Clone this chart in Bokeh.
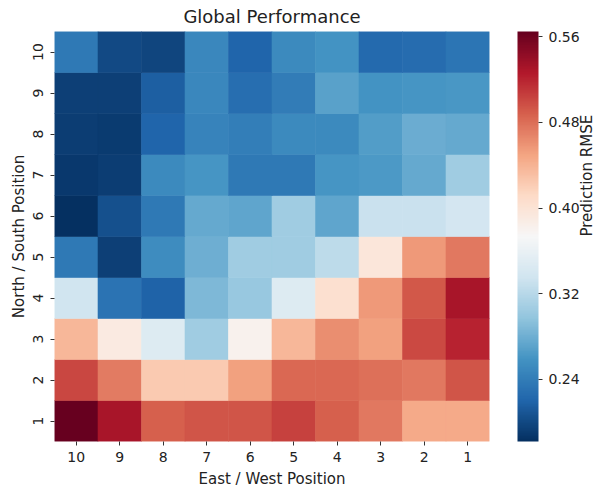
import math
from bokeh.plotting import figure
from bokeh.models import (ColumnDataSource, LinearColorMapper, ColorBar, FixedTicker,
                          PrintfTickFormatter, CategoricalAxis, FactorRange)
from bokeh.transform import transform
from bokeh.embed import file_html
from bokeh.resources import INLINE

# ---- data ----
ew_labels = ["10", "9", "8", "7", "6", "5", "4", "3", "2", "1"]   # left -> right
ns_labels = ["1", "2", "3", "4", "5", "6", "7", "8", "9", "10"]   # bottom -> top

rmse_ns10 = [0.236, 0.201, 0.197, 0.249, 0.220, 0.251, 0.259, 0.224, 0.226, 0.234]
rmse_ns9 = [0.193, 0.193, 0.216, 0.249, 0.228, 0.239, 0.270, 0.259, 0.261, 0.262]
rmse_ns8 = [0.192, 0.190, 0.220, 0.245, 0.241, 0.251, 0.251, 0.266, 0.278, 0.276]
rmse_ns7 = [0.188, 0.192, 0.251, 0.261, 0.236, 0.236, 0.261, 0.264, 0.276, 0.305]
rmse_ns6 = [0.182, 0.205, 0.236, 0.276, 0.272, 0.305, 0.272, 0.331, 0.331, 0.339]
rmse_ns5 = [0.236, 0.193, 0.253, 0.280, 0.305, 0.305, 0.324, 0.396, 0.456, 0.475]
rmse_ns4 = [0.335, 0.232, 0.218, 0.287, 0.301, 0.347, 0.404, 0.456, 0.492, 0.531]
rmse_ns3 = [0.437, 0.391, 0.347, 0.305, 0.381, 0.437, 0.462, 0.452, 0.500, 0.521]
rmse_ns2 = [0.502, 0.473, 0.423, 0.423, 0.452, 0.483, 0.483, 0.479, 0.475, 0.494]
rmse_ns1 = [0.565, 0.532, 0.488, 0.494, 0.494, 0.504, 0.488, 0.475, 0.446, 0.446]

cb_ticks = [0.24, 0.32, 0.40, 0.48, 0.56]

rows = {"1": rmse_ns1, "2": rmse_ns2, "3": rmse_ns3, "4": rmse_ns4, "5": rmse_ns5,
        "6": rmse_ns6, "7": rmse_ns7, "8": rmse_ns8, "9": rmse_ns9, "10": rmse_ns10}

xs, ys, vals = [], [], []
for ns, row in rows.items():
    for ew, v in zip(ew_labels, row):
        xs.append(ew)
        ys.append(ns)
        vals.append(v)
src = ColumnDataSource(dict(x=xs, y=ys, v=vals))

# ---- RdBu_r palette (matplotlib anchors), interpolated to 256 steps ----
anchors = ["#053061", "#2166ac", "#4393c3", "#92c5de", "#d1e5f0", "#f7f7f7",
           "#fddbc7", "#f4a582", "#d6604d", "#b2182b", "#67001f"]

def _rgb(h):
    return tuple(int(h[i:i + 2], 16) for i in (1, 3, 5))

palette = []
n = 256
for k in range(n):
    t = k / (n - 1) * (len(anchors) - 1)
    i = min(int(math.floor(t)), len(anchors) - 2)
    f = t - i
    a, b = _rgb(anchors[i]), _rgb(anchors[i + 1])
    c = tuple(int(round(a[j] + (b[j] - a[j]) * f)) for j in range(3))
    palette.append("#%02x%02x%02x" % c)

mapper = LinearColorMapper(palette=palette, low=min(vals), high=max(vals))

FONT = "DejaVu Sans"
TXT = "#222222"

p = figure(width=607, height=492, x_range=ew_labels, y_range=ns_labels,
           output_backend="svg", toolbar_location=None,
           min_border_left=54, min_border_right=113, min_border_top=31, min_border_bottom=51)
# a one-factor range used only by the axis that carries the colour-bar title
p.extra_y_ranges = {"cbtitle": FactorRange(factors=[""])}

p.rect(x="x", y="y", width=1, height=1, source=src,
       fill_color=transform("v", mapper), line_color=transform("v", mapper), line_width=0.6)

p.title.text = "Global Performance"
p.title.align = "center"
p.title.vertical_align = "top"
p.title.text_font = FONT
p.title.text_font_size = "18px"
p.title.text_font_style = "normal"
p.title.text_color = TXT
p.title.standoff = 6

p.outline_line_color = None
p.grid.grid_line_color = None
for ax in (p.xaxis, p.yaxis):
    ax.axis_line_color = None
    ax.major_tick_in = 0
    ax.major_tick_out = 4
    ax.major_tick_line_color = "#333333"
    ax.minor_tick_line_color = None
    ax.major_label_text_font = FONT
    ax.major_label_text_font_size = "14px"
    ax.major_label_text_color = TXT
    ax.axis_label_text_font = FONT
    ax.axis_label_text_font_size = "15px"
    ax.axis_label_text_font_style = "normal"
    ax.axis_label_text_color = TXT

p.xaxis.axis_label = "East / West Position"
p.xaxis.major_label_standoff = 6
p.xaxis.axis_label_standoff = 5
p.yaxis.axis_label = "North / South Position"
p.yaxis.major_label_orientation = "vertical"
p.yaxis.major_label_standoff = 8
p.yaxis.axis_label_standoff = 2

cb = ColorBar(color_mapper=mapper, ticker=FixedTicker(ticks=cb_ticks),
              formatter=PrintfTickFormatter(format="%.2f"),
              width=21, height=410, padding=0, margin=0, location=(28, 0),
              major_tick_in=0, major_tick_out=4, major_tick_line_color="#333333",
              minor_tick_line_color=None, bar_line_color=None, border_line_color=None,
              background_fill_alpha=0, label_standoff=6,
              major_label_text_font=FONT, major_label_text_font_size="14px",
              major_label_text_color=TXT)
p.add_layout(cb, "right")

# colour-bar title: a tick-less axis placed outside the colour bar
cb_axis = CategoricalAxis(y_range_name="cbtitle", axis_label="Prediction RMSE",
                          axis_line_color=None, major_tick_line_color=None,
                          minor_tick_line_color=None, major_tick_out=0, major_tick_in=0,
                          major_label_standoff=0, axis_label_standoff=4,
                          major_label_text_font=FONT, major_label_text_font_size="14px",
                          axis_label_text_font=FONT, axis_label_text_font_size="15px",
                          axis_label_text_font_style="normal", axis_label_text_color=TXT)
if "axis_label_orientation" in cb_axis.properties():
    cb_axis.axis_label_orientation = math.pi / 2
p.add_layout(cb_axis, "right")

open("out.html", "w").write(file_html(p, INLINE))
